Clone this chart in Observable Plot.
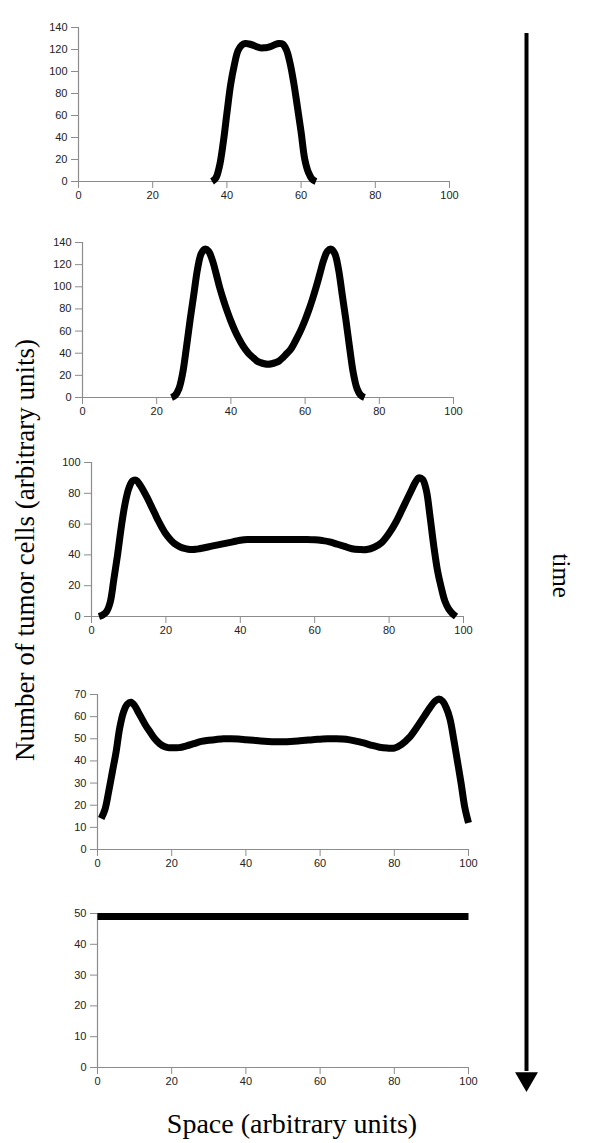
<!DOCTYPE html>
<html>
<head>
<meta charset="utf-8">
<script src="https://cdn.jsdelivr.net/npm/d3@7"></script>
<script src="https://cdn.jsdelivr.net/npm/@observablehq/plot@0.6"></script>
<style>
  html, body { margin: 0; padding: 0; background: #fff; }
  #root { position: relative; width: 600px; height: 1143px; overflow: hidden; background: #fff; }
  .panel { position: absolute; left: 0; }
  .lab { position: absolute; font-family: "Liberation Serif", "Times New Roman", serif; color: #000; white-space: nowrap; }
</style>
</head>
<body>
<div id="root"></div>
<script>
// ---- data ----
const xTicks = [0, 20, 40, 60, 80, 100];

const space1 = [36, 37, 38, 39, 40, 41, 42, 43, 44, 45, 46, 47, 48, 49, 50, 51, 52, 53, 54, 55, 56, 57, 58, 59, 60, 61, 62, 63, 64];
const cells1 = [0, 3, 14, 35, 62, 88, 106, 119, 124, 125.5, 125, 124, 122.5, 121.5, 121.5, 122, 123, 124.5, 125.5, 125, 120, 108, 90, 68, 45, 20, 8, 2, 0];
const yTicks1 = [0, 20, 40, 60, 80, 100, 120, 140];

const space2 = [24, 25, 26, 27, 28, 29, 30, 31, 32, 33, 34, 35, 36, 37, 38, 39, 40, 41, 42, 43, 44, 45, 46, 47, 48, 49, 50, 51, 52, 53, 54, 55, 56, 57, 58, 59, 60, 61, 62, 63, 64, 65, 66, 67, 68, 69, 70, 71, 72, 73, 74, 75, 76];
const cells2 = [0, 2, 8, 22, 45, 70, 93, 116, 130, 134, 132, 124, 112, 99, 88, 78, 69, 61, 54, 48, 43, 39, 36, 33, 31.5, 30.5, 30, 30.5, 31.5, 33, 36, 39.5, 43, 48.5, 55, 62, 70, 79, 89, 100, 112, 124, 132, 134, 130, 116, 93, 70, 45, 22, 8, 2, 0];
const yTicks2 = [0, 20, 40, 60, 80, 100, 120, 140];

const space3 = [2, 3, 4, 5, 6, 7, 8, 9, 10, 11, 12, 13, 14, 15, 16, 17, 18, 19, 20, 21, 22, 23, 24, 25, 26, 27, 28, 29, 30, 32, 34, 36, 38, 40, 42, 44, 46, 48, 50, 52, 54, 56, 58, 60, 62, 64, 66, 68, 70, 72, 74, 76, 78, 80, 82, 84, 86, 87, 88, 89, 90, 91, 92, 93, 94, 95, 96, 97, 98];
const cells3 = [0, 1, 3, 9, 24, 40, 58, 73, 83, 88, 88.5, 85.5, 81.5, 77, 72, 67, 62, 57.5, 53.5, 50.5, 48, 46.3, 45, 44.2, 43.7, 43.5, 43.6, 44, 44.5, 45.5, 46.5, 47.5, 48.5, 49.5, 50, 50, 50, 50, 50, 50, 50, 50, 50, 49.8, 49.3, 48.5, 47, 45.5, 44, 43.5, 43.5, 45, 48, 54, 62, 72, 82, 87, 90, 89, 82, 65, 46, 30, 19, 10, 5, 2, 0];
const yTicks3 = [0, 20, 40, 60, 80, 100];

const space4 = [1, 2, 3, 4, 5, 6, 7, 8, 9, 10, 11, 12, 13, 14, 15, 16, 17, 18, 19, 20, 22, 24, 26, 28, 30, 32, 34, 36, 38, 40, 42, 44, 46, 48, 50, 52, 54, 56, 58, 60, 62, 64, 66, 68, 70, 72, 74, 76, 78, 80, 82, 84, 86, 88, 90, 91, 92, 93, 94, 95, 96, 97, 98, 99, 100];
const cells4 = [14, 18, 26, 35, 44, 55, 62, 65.5, 66.5, 65, 62, 59, 56, 53.5, 51, 49, 47.5, 46.5, 46, 46, 46, 46.8, 47.8, 48.8, 49.3, 49.7, 50, 50, 49.9, 49.6, 49.3, 49, 48.8, 48.7, 48.7, 48.8, 49, 49.3, 49.6, 49.8, 50, 50, 49.9, 49.5, 48.8, 48, 47, 46.2, 45.8, 45.8, 47.5, 50.5, 55, 60, 65, 67, 68, 67, 64, 59, 50, 40, 30, 19, 12];
const yTicks4 = [0, 10, 20, 30, 40, 50, 60, 70];

const space5 = [0, 100];
const cells5 = [49, 49];
const yTicks5 = [0, 10, 20, 30, 40, 50];

const timeSpan = [0, 1];

// ---- layout ----
const panels = [
  {space: space1, cells: cells1, yTicks: yTicks1, yMax: 140, axisLeft: 78, x100: 449, yTop: 27, y0: 181},
  {space: space2, cells: cells2, yTicks: yTicks2, yMax: 140, axisLeft: 82, x100: 453, yTop: 242, y0: 397},
  {space: space3, cells: cells3, yTicks: yTicks3, yMax: 100, axisLeft: 91, x100: 463, yTop: 462, y0: 616},
  {space: space4, cells: cells4, yTicks: yTicks4, yMax: 70,  axisLeft: 97, x100: 468, yTop: 694, y0: 849},
  {space: space5, cells: cells5, yTicks: yTicks5, yMax: 50,  axisLeft: 97, x100: 468, yTop: 913, y0: 1067}
];

const root = document.getElementById("root");
const axisGray = "#8c8c8c";
const tickFont = "Liberation Sans, Arial, sans-serif";

panels.forEach(p => {
  const mt = 10, mb = 30, mr = 20;
  const data = p.space.map((s, i) => ({space: s, cells: p.cells[i]}));
  const chart = Plot.plot({
    width: p.x100 + mr,
    height: mt + (p.y0 - p.yTop) + mb,
    marginLeft: p.axisLeft,
    marginRight: mr,
    marginTop: mt,
    marginBottom: mb,
    style: {background: "transparent", fontFamily: tickFont, fontSize: "11px", color: "#222", overflow: "visible"},
    x: {domain: [0, 100]},
    y: {domain: [0, p.yMax]},
    marks: [
      Plot.ruleY([0], {stroke: axisGray, strokeWidth: 1.2}),
      Plot.ruleX([0], {stroke: axisGray, strokeWidth: 1.2}),
      Plot.axisX({ticks: xTicks, tickSize: 7, tickPadding: 3, stroke: axisGray, fill: "#222", label: null, tickFormat: d => String(d)}),
      Plot.axisY({ticks: p.yTicks, tickSize: 7, tickPadding: 4, stroke: axisGray, fill: "#222", label: null, tickFormat: d => String(d)}),
      Plot.line(data, {x: "space", y: "cells", stroke: "#000", strokeWidth: 7, curve: "catmull-rom", strokeLinejoin: "round", strokeLinecap: "butt"})
    ]
  });
  const div = document.createElement("div");
  div.className = "panel";
  div.style.top = (p.yTop - mt) + "px";
  div.appendChild(chart);
  root.appendChild(div);
});

// time arrow
const arrowChart = Plot.plot({
  width: 80,
  height: 1143,
  marginLeft: 0, marginRight: 0, marginTop: 0, marginBottom: 0,
  style: {background: "transparent", overflow: "visible"},
  x: {domain: [0, 80], axis: null},
  y: {domain: timeSpan, range: [33, 1090], axis: null},
  marks: [
    Plot.ruleX([26], {y1: timeSpan[0], y2: timeSpan[1] - 0.018, stroke: "#000", strokeWidth: 4}),
    Plot.dot([timeSpan[1]], {x: 26, y: d => d - 0.011, symbol: "triangle", r: 8.5, fill: "#000", stroke: "none", rotate: 180}),
    Plot.text(["time"], {x: 60, y: [0.513], rotate: 90, fontSize: 25, fontFamily: "Liberation Serif, Times New Roman, serif", fill: "#000"})
  ]
});
const adiv = document.createElement("div");
adiv.className = "panel";
adiv.style.left = "500px";
adiv.style.top = "0px";
adiv.appendChild(arrowChart);
root.appendChild(adiv);

// axis titles
const yl = document.createElement("div");
yl.className = "lab";
yl.textContent = "Number of tumor cells (arbitrary units)";
yl.style.fontSize = "27px";
yl.style.left = "25px";
yl.style.top = "550px";
yl.style.transform = "translate(-50%, -50%) rotate(-90deg)";
root.appendChild(yl);

const xl = document.createElement("div");
xl.className = "lab";
xl.textContent = "Space (arbitrary units)";
xl.style.fontSize = "28px";
xl.style.left = "292px";
xl.style.top = "1124px";
xl.style.transform = "translate(-50%, -50%)";
root.appendChild(xl);
</script>
</body>
</html>
